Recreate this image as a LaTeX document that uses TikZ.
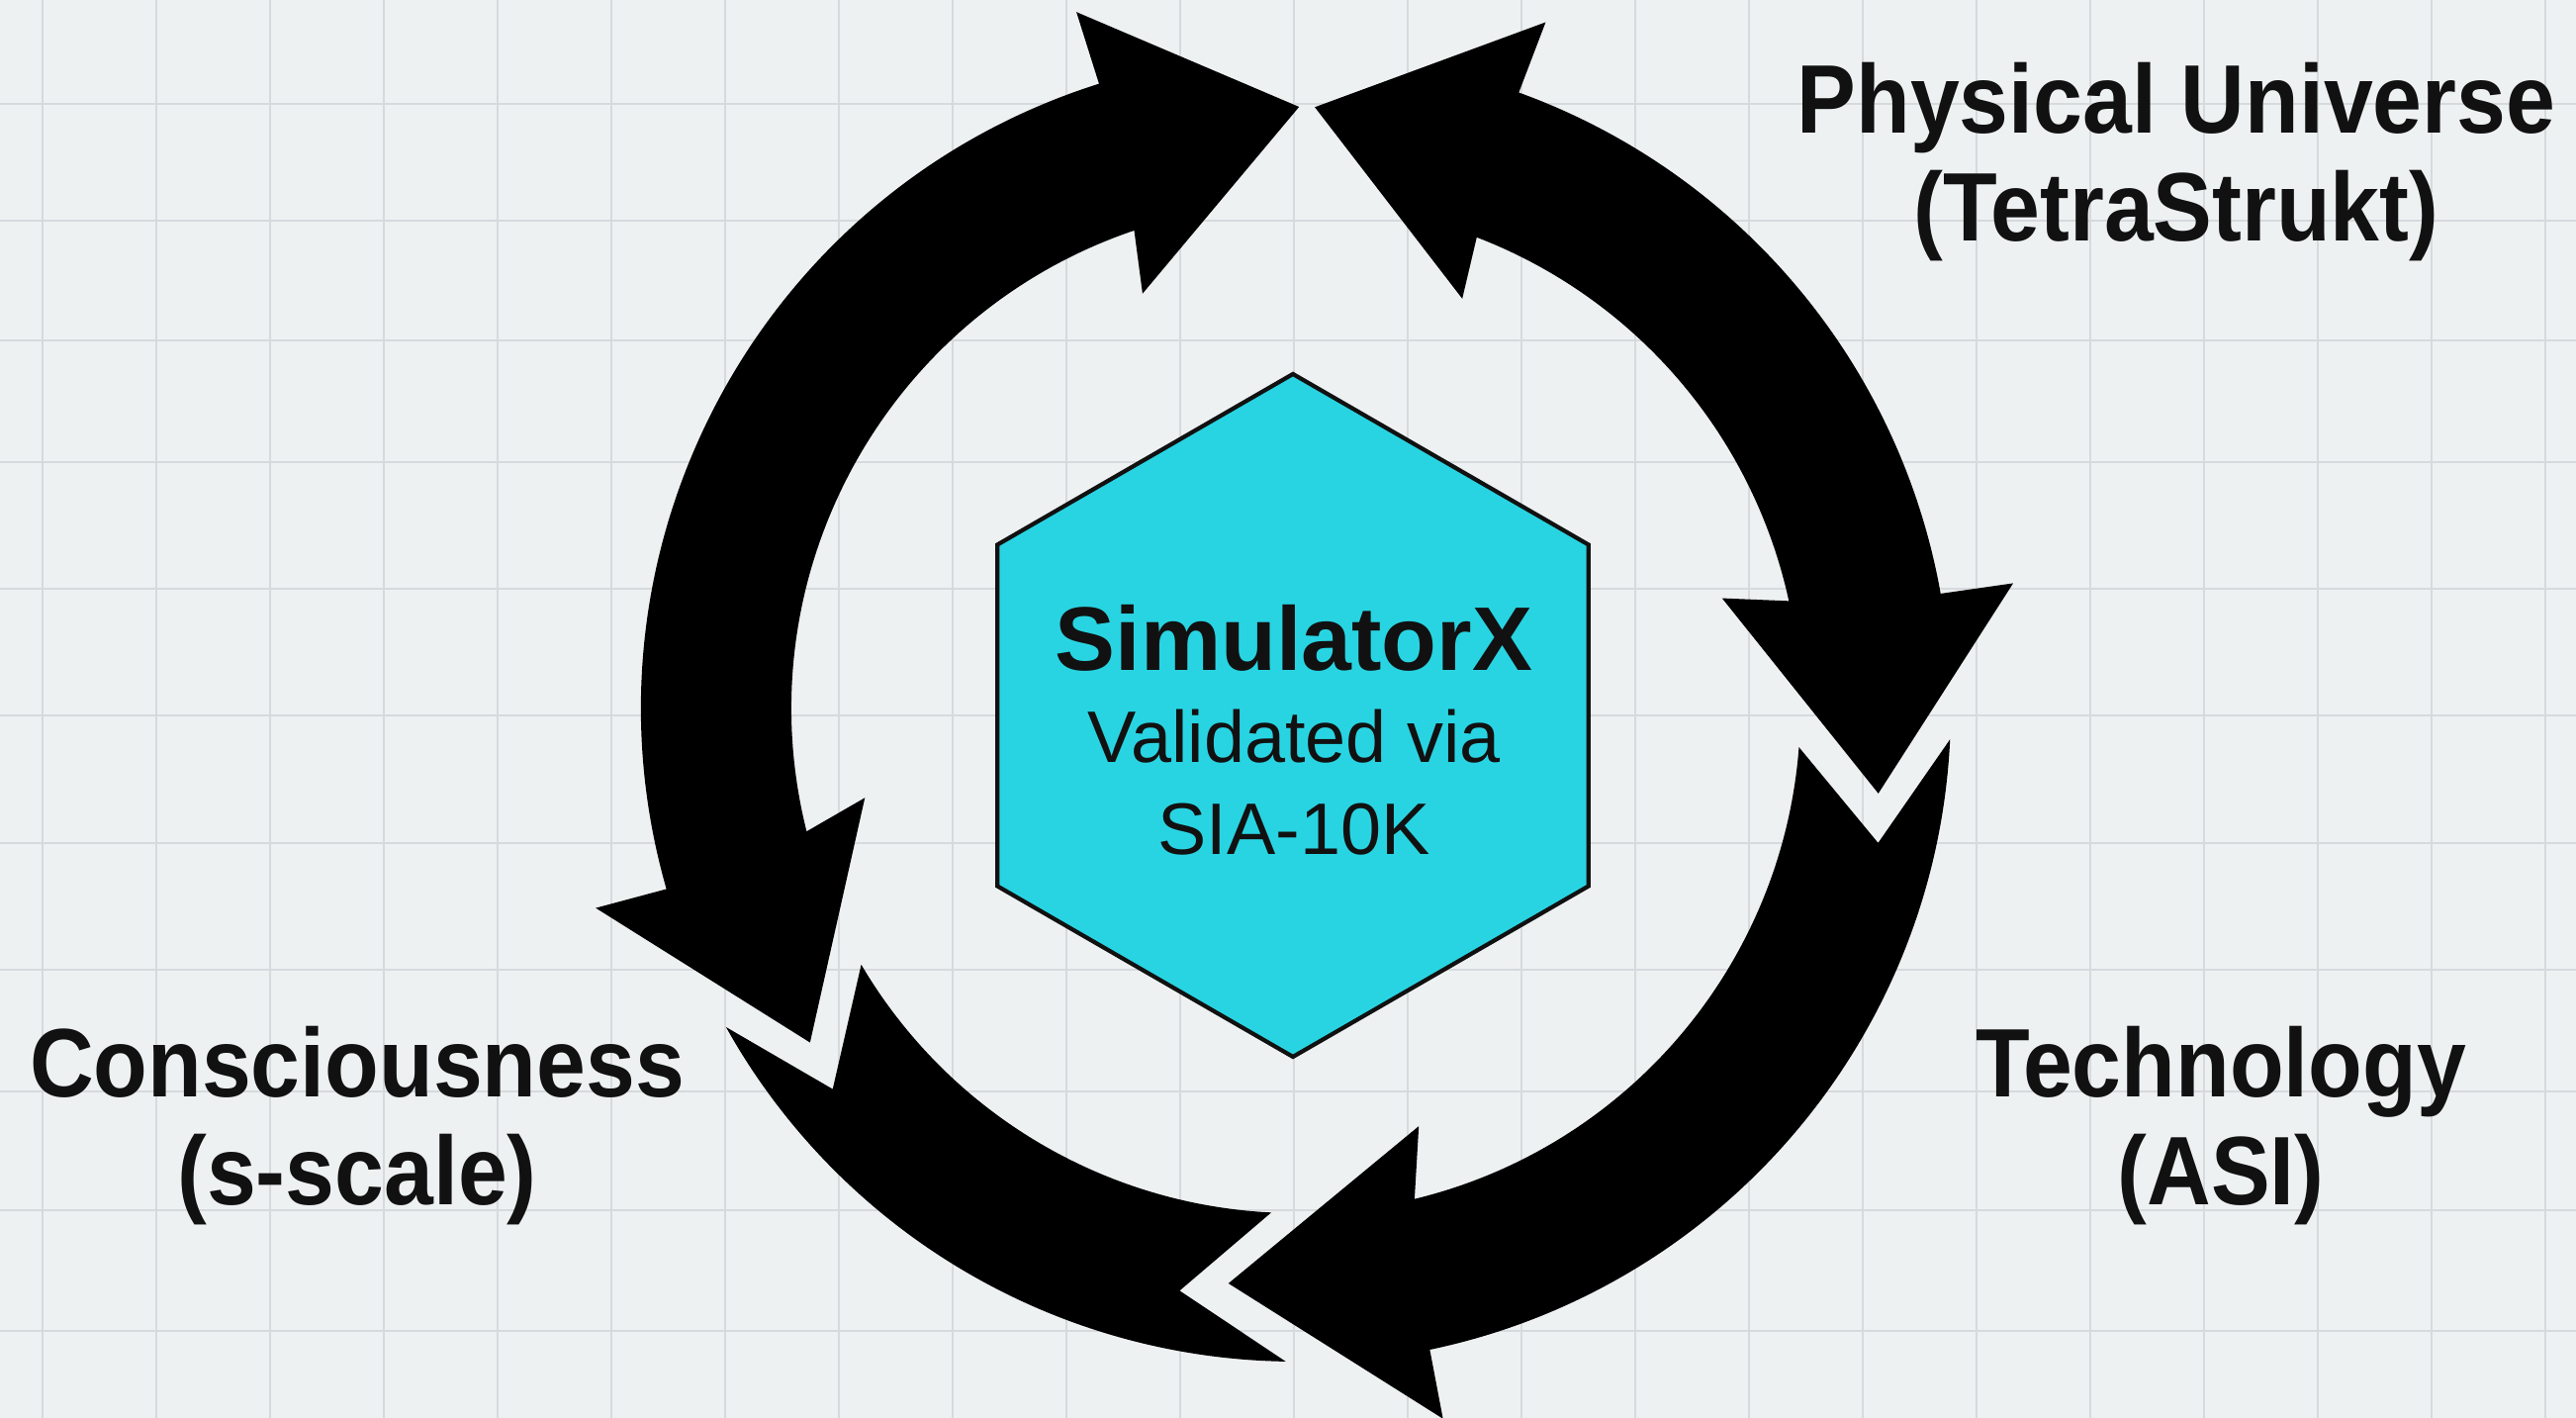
\documentclass[tikz,border=0pt]{standalone}
\usepackage{fontspec}
\setmainfont{Liberation Sans}
\newfontfamily\labelfont{Liberation Sans}[FakeStretch=0.91]
\usetikzlibrary{shapes.geometric}

\definecolor{paper}{RGB}{238,241,242}
\definecolor{gridgray}{RGB}{214,218,221}
\definecolor{hexcyan}{RGB}{41,212,226}
\definecolor{inkblack}{RGB}{17,17,17}

\begin{document}
\begin{tikzpicture}[
	gridline/.style = {gridgray, line width = 0.8pt},
	band/.style = {black},
	hexbox/.style = {regular polygon, regular polygon sides = 6, shape border rotate = 30,
		minimum size = 6.9cm, inner sep = 0pt, outer sep = 0pt,
		fill = hexcyan, draw = inkblack, line width = 1.2pt},
	hextext/.style = {align = center, text = inkblack, inner sep = 0pt,
		font = \fontsize{21}{26.5}\selectfont},
	sidetext/.style = {align = center, text = inkblack, inner sep = 0pt,
		font = \labelfont\bfseries\fontsize{28}{31}\selectfont}
]
	
	% Paper and grid
	
	\fill[paper] (0, 0) rectangle (26.04, 14.33);
	\useasboundingbox (0, 0) rectangle (26.04, 14.33);
	
	\foreach \x in {0, 1, ..., 22}
		\draw[gridline] ({0.43 + 1.15 * \x}, 0) -- ({0.43 + 1.15 * \x}, 14.33);
	\foreach \y in {13.28, 12.10, 10.89, 9.66, 8.38, 7.10, 5.81, 4.53, 3.30, 2.10, 0.88}
		\draw[gridline] (0, \y) -- (26.04, \y);
	
	% The cycle of arrows
	
	\begin{scope}[shift = {(13.10, 7.17)}]
	
		% left arc, a head at each end
		\fill[band] (108.7:5.10) arc[start angle = 108.7, end angle = 194.1, radius = 5.10]
			-- (191.7:4.45) -- (214.5:5.96) -- (195.9:7.36) -- (196:6.62)
			arc[start angle = 196, end angle = 107.5, radius = 6.62]
			-- (107.5:7.38) -- (89.7:6.08) -- (110.3:4.47) -- cycle;
		
		% right arc, a head at each end
		\fill[band] (69:5.10) arc[start angle = 69, end angle = 12.3, radius = 5.10]
			-- (14.5:4.45) -- (-8.3:5.95) -- (9.9:7.36) -- (10.1:6.62)
			arc[start angle = 10.1, end angle = 70.1, radius = 6.62]
			-- (70:7.38) -- (88.2:6.08) -- (67.9:4.47) -- cycle;
		
		% lower right arc, notched tail
		\fill[band] (-4.4:5.10) -- (-13:6.04) -- (-2.7:6.62)
			arc[start angle = -2.7, end angle = -78.2, radius = 6.62]
			-- (-78.3:7.33) -- (-96.7:5.85) -- (-73.6:4.40) -- (-76.4:5.10)
			arc[start angle = -76.4, end angle = -4.4, radius = 5.10] -- cycle;
		
		% lower left arc, notched at both ends
		\fill[band] (210.5:5.10) arc[start angle = 210.5, end angle = 267.2, radius = 5.10]
			-- (258.7:6.00) -- (269.1:6.60)
			arc[start angle = 269.1, end angle = 209.2, radius = 6.60]
			-- (219.4:6.06) -- cycle;
	
	\end{scope}
	
	% The hexagon
	
	\node[hexbox] (hub) at (13.07, 7.10) {};
	\node[hextext] (hubtext) at (13.08, 6.95)
		{{\fontsize{26}{30}\selectfont\bfseries SimulatorX}\\ Validated via\\ SIA-10K};
	
	% Labels
	
	\node[sidetext] (universe) at (22.00, 12.69) {Physical Universe\\ (TetraStrukt)};
	\node[sidetext] (mind) at (3.61, 2.95) {Consciousness\\ (s-scale)};
	\node[sidetext] (tech) at (22.45, 2.95) {Technology\\ (ASI)};

\end{tikzpicture}
\end{document}
